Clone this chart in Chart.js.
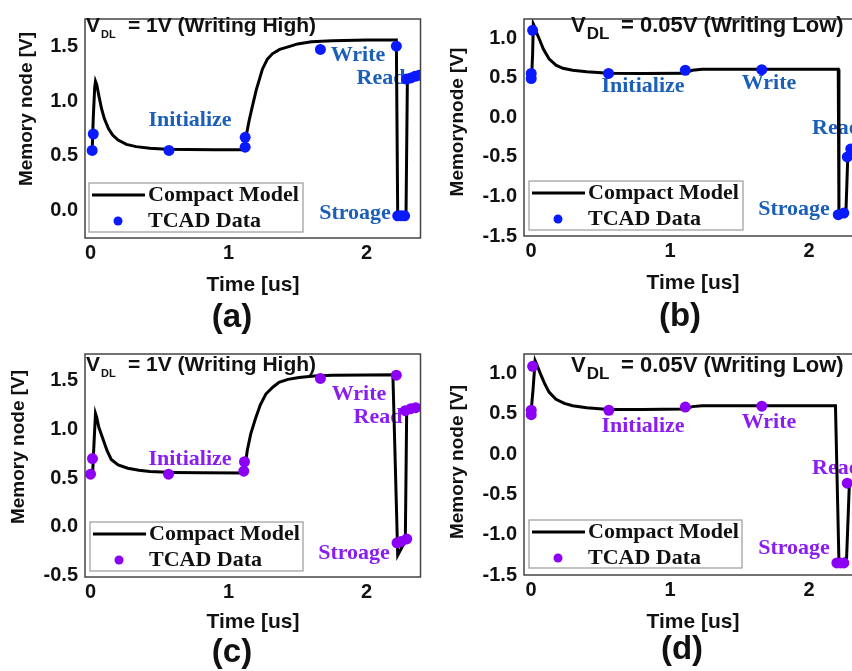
<!DOCTYPE html>
<html>
<head>
<meta charset="utf-8">
<script src="https://cdn.jsdelivr.net/npm/chart.js@4.4.1/dist/chart.umd.min.js"></script>
<style>
html, body { margin: 0; padding: 0; background: #fff; }
body { width: 852px; height: 671px; overflow: hidden; position: relative; }
.panel { position: absolute; }
</style>
</head>
<body>
<div class="panel" style="left:0;top:0;width:426px;height:335px"><canvas id="ca"></canvas></div>
<div class="panel" style="left:426px;top:0;width:440px;height:335px"><canvas id="cb"></canvas></div>
<div class="panel" style="left:0;top:335px;width:426px;height:336px"><canvas id="cc"></canvas></div>
<div class="panel" style="left:426px;top:335px;width:440px;height:336px"><canvas id="cd"></canvas></div>
<script>
// tick labels
const xTicks = [0, 1, 2];
const yTicksHigh = [0, 0.5, 1, 1.5];
const yTicksHighC = [-0.5, 0, 0.5, 1, 1.5];
const yTicksLow = [-1.5, -1, -0.5, 0, 0.5, 1];

const seriesNames = ['Compact Model', 'TCAD Data'];
const phaseNames = ['Initialize', 'Write', 'Read', 'Stroage'];

// (a) V_DL = 1V, writing high
const modelTimeA = [0.012, 0.02, 0.03, 0.036, 0.045, 0.06, 0.08, 0.1, 0.13, 0.16, 0.2, 0.26, 0.33, 0.43, 0.55, 0.7, 0.9, 1.105,
  1.115, 1.13, 1.15, 1.17, 1.2, 1.245, 1.28, 1.317, 1.37, 1.437, 1.5, 1.6, 1.75, 2.0, 2.215, 2.225, 2.285, 2.295, 2.33, 2.4];
const modelVoltA = [0.55, 0.85, 1.12, 1.18, 1.15, 1.05, 0.93, 0.84, 0.75, 0.69, 0.645, 0.605, 0.585, 0.57, 0.562, 0.558, 0.556, 0.556,
  0.6, 0.7, 0.83, 0.94, 1.1, 1.29, 1.38, 1.43, 1.47, 1.495, 1.52, 1.54, 1.55, 1.555, 1.555, -0.05, -0.05, 1.2, 1.215, 1.235];
const tcadTimeA = [0.012, 0.02, 0.568, 1.12, 1.12, 1.665, 2.215, 2.225, 2.25, 2.275, 2.29, 2.32, 2.35, 2.38];
const tcadVoltA = [0.55, 0.70, 0.55, 0.58, 0.67, 1.47, 1.50, -0.045, -0.045, -0.045, 1.20, 1.21, 1.225, 1.235];

// (b) V_DL = 0.05V, writing low
const modelTimeB = [0.005, 0.012, 0.017, 0.025, 0.04, 0.06, 0.09, 0.13, 0.18, 0.23, 0.3, 0.4, 0.56, 0.8, 1.1, 1.13, 1.16, 1.23, 1.6,
  2.21, 2.215, 2.265, 2.28, 2.3, 2.4];
const modelVoltB = [0.51, 0.8, 1.18, 1.15, 1.07, 0.99, 0.86, 0.74, 0.66, 0.62, 0.595, 0.575, 0.558, 0.555, 0.556, 0.575, 0.595, 0.607, 0.607,
  0.607, -1.23, -1.21, -0.42, -0.38, -0.35];
const tcadTimeB = [0.002, 0.002, 0.012, 0.558, 1.11, 1.66, 2.21, 2.25, 2.275, 2.3];
const tcadVoltB = [0.555, 0.49, 1.10, 0.555, 0.595, 0.603, -1.23, -1.21, -0.5, -0.4];

// (c) V_DL = 1V, writing high
const modelTimeC = [0.015, 0.025, 0.036, 0.045, 0.06, 0.09, 0.12, 0.15, 0.2, 0.27, 0.35, 0.43, 0.6, 0.8, 1.105, 1.12, 1.135, 1.16,
  1.195, 1.23, 1.27, 1.32, 1.365, 1.43, 1.51, 1.62, 1.75, 2.0, 2.19, 2.225, 2.27, 2.28, 2.29, 2.33, 2.4];
const modelVoltC = [0.54, 0.85, 1.16, 1.12, 1.02, 0.9, 0.78, 0.69, 0.635, 0.6, 0.58, 0.567, 0.558, 0.553, 0.552, 0.62, 0.78, 0.95,
  1.11, 1.25, 1.36, 1.43, 1.48, 1.51, 1.53, 1.545, 1.552, 1.555, 1.558, -0.29, -0.17, -0.14, 1.19, 1.21, 1.23];
const tcadTimeC = [0.0, 0.014, 0.565, 1.11, 1.115, 1.665, 2.215, 2.22, 2.25, 2.29, 2.28, 2.32, 2.355];
const tcadVoltC = [0.54, 0.70, 0.54, 0.57, 0.667, 1.52, 1.553, -0.163, -0.15, -0.123, 1.19, 1.21, 1.22];

// (d) V_DL = 0.05V, writing low
const modelTimeD = [0.0, 0.015, 0.03, 0.04, 0.07, 0.1, 0.13, 0.18, 0.24, 0.3, 0.4, 0.56, 0.8, 1.11, 1.16, 1.23, 1.6, 2.19,
  2.215, 2.27, 2.29, 2.4];
const modelVoltD = [0.51, 0.8, 1.16, 1.12, 0.99, 0.87, 0.77, 0.68, 0.63, 0.6, 0.575, 0.555, 0.555, 0.56, 0.59, 0.6, 0.602, 0.602,
  -1.33, -1.29, -0.36, -0.33];
const tcadTimeD = [0.002, 0.002, 0.012, 0.56, 1.11, 1.66, 2.2, 2.225, 2.25, 2.275];
const tcadVoltD = [0.545, 0.49, 1.09, 0.545, 0.585, 0.595, -1.35, -1.35, -1.35, -0.36];

const SANS = '"Liberation Sans", Arial, sans-serif';
const SERIF = '"Liberation Serif", "Times New Roman", serif';
const BLUE_TEXT = '#1b5fb8', BLUE_DOT = '#0a1aff';
const PURPLE_TEXT = '#8a1ef0', PURPLE_DOT = '#8c00f5';

const highTitle = { base: 32, x: 86, subSize: 11, subDy: 6, restX: 128, rest: '= 1V (Writing High)', size: 21 };
const lowTitle = { base: 32, x: 145, subSize: 17, subDy: 7, restX: 195, rest: '= 0.05V (Writing Low)', size: 22 };

const panels = [
  { id: 'ca', w: 426, h: 335, left: 85, right: 422, top: 12, bottom: 238,
    xMin: -0.04, xMax: 2.39, yMin: -0.247, yMax: 1.747, yTicks: yTicksHigh,
    time: modelTimeA, volt: modelVoltA, tTime: tcadTimeA, tVolt: tcadVoltA,
    textColor: BLUE_TEXT, dotColor: BLUE_DOT, title: highTitle,
    labels: [[190, 120, 'center'], [358, 55, 'center'], [381, 78, 'center'], [355, 213, 'center']],
    legend: { x: 89, y: 183, w: 214, h: 49 },
    yTitle: { text: 'Memory node [V]', x: 27, y: 109 }, xTitle: { x: 253, y: 285 }, letter: { text: '(a)', x: 232, y: 318 } },
  { id: 'cb', w: 440, h: 335, left: 98, right: 435, top: 10, bottom: 236,
    xMin: -0.05, xMax: 2.37, yMin: -1.5, yMax: 1.243, yTicks: yTicksLow,
    time: modelTimeB, volt: modelVoltB, tTime: tcadTimeB, tVolt: tcadVoltB,
    textColor: BLUE_TEXT, dotColor: BLUE_DOT, title: lowTitle,
    labels: [[217, 86, 'center'], [343, 83, 'center'], [386, 128, 'left'], [368, 209, 'center']],
    legend: { x: 103, y: 181, w: 214, h: 49 },
    yTitle: { text: 'Memorynode [V]', x: 32, y: 122 }, xTitle: { x: 267, y: 283 }, letter: { text: '(b)', x: 254, y: 317 } },
  { id: 'cc', w: 426, h: 336, left: 85, right: 422, top: 15, bottom: 242,
    xMin: -0.04, xMax: 2.39, yMin: -0.513, yMax: 1.77, yTicks: yTicksHighC,
    time: modelTimeC, volt: modelVoltC, tTime: tcadTimeC, tVolt: tcadVoltC,
    textColor: PURPLE_TEXT, dotColor: PURPLE_DOT, title: Object.assign({}, highTitle, { base: 36 }),
    labels: [[190, 124, 'center'], [359, 59, 'center'], [378, 82, 'center'], [354, 218, 'center']],
    legend: { x: 90, y: 187, w: 213, h: 49 },
    yTitle: { text: 'Memory node [V]', x: 19, y: 112 }, xTitle: { x: 253, y: 287 }, letter: { text: '(c)', x: 232, y: 318 } },
  { id: 'cd', w: 440, h: 336, left: 98, right: 435, top: 14, bottom: 240,
    xMin: -0.05, xMax: 2.37, yMin: -1.5, yMax: 1.243, yTicks: yTicksLow,
    time: modelTimeD, volt: modelVoltD, tTime: tcadTimeD, tVolt: tcadVoltD,
    textColor: PURPLE_TEXT, dotColor: PURPLE_DOT, title: Object.assign({}, lowTitle, { base: 37 }),
    labels: [[217, 91, 'center'], [343, 87, 'center'], [386, 133, 'left'], [368, 213, 'center']],
    legend: { x: 103, y: 185, w: 213, h: 48 },
    yTitle: { text: 'Memory node [V]', x: 32, y: 127 }, xTitle: { x: 267, y: 287 }, letter: { text: '(d)', x: 256, y: 315 } }
];

// phase labels go under the curves, everything else on top
const decor = {
  id: 'decor',
  beforeDatasetsDraw(chart, args, p) {
    const ctx = chart.ctx;
    ctx.save();
    ctx.font = 'bold 22px ' + SERIF;
    ctx.fillStyle = p.textColor;
    ctx.textBaseline = 'middle';
    p.labels.forEach((l, i) => {
      ctx.textAlign = l[2];
      ctx.fillText(phaseNames[i], l[0], l[1]);
    });
    ctx.restore();
  },
  afterDatasetsDraw(chart, args, p) {
    const ctx = chart.ctx, a = chart.chartArea;
    ctx.save();
    // frame
    ctx.strokeStyle = '#444';
    ctx.lineWidth = 1.5;
    ctx.strokeRect(a.left, a.top, a.right - a.left, a.bottom - a.top);

    // title with subscript
    const t = p.title;
    ctx.fillStyle = '#111';
    ctx.textAlign = 'left';
    ctx.textBaseline = 'alphabetic';
    ctx.font = 'bold ' + t.size + 'px ' + SANS;
    ctx.fillText('V', t.x, t.base);
    const vw = ctx.measureText('V').width;
    ctx.font = 'bold ' + t.subSize + 'px ' + SANS;
    ctx.fillText('DL', t.x + vw + 1, t.base + t.subDy);
    ctx.font = 'bold ' + t.size + 'px ' + SANS;
    ctx.fillText(t.rest, t.restX, t.base);

    // legend
    const lg = p.legend;
    ctx.strokeStyle = '#9a9a9a';
    ctx.lineWidth = 1.2;
    ctx.strokeRect(lg.x, lg.y, lg.w, lg.h);
    ctx.strokeStyle = '#000';
    ctx.lineWidth = 3;
    ctx.beginPath();
    ctx.moveTo(lg.x + 3, lg.y + 12);
    ctx.lineTo(lg.x + 56, lg.y + 12);
    ctx.stroke();
    ctx.fillStyle = p.dotColor;
    ctx.beginPath();
    ctx.arc(lg.x + 29, lg.y + 38, 4.5, 0, Math.PI * 2);
    ctx.fill();
    ctx.fillStyle = '#111';
    ctx.font = 'bold 22px ' + SERIF;
    ctx.textBaseline = 'middle';
    ctx.fillText(seriesNames[0], lg.x + 59, lg.y + 12);
    ctx.fillText(seriesNames[1], lg.x + 59, lg.y + 38);

    // axis titles
    ctx.textAlign = 'center';
    ctx.font = 'bold 21px ' + SANS;
    ctx.fillText('Time [us]', p.xTitle.x, p.xTitle.y);
    ctx.save();
    ctx.translate(p.yTitle.x, p.yTitle.y);
    ctx.rotate(-Math.PI / 2);
    ctx.font = 'bold 19px ' + SANS;
    ctx.fillText(p.yTitle.text, 0, 0);
    ctx.restore();

    // panel letter
    ctx.font = 'bold 33px ' + SANS;
    ctx.fillText(p.letter.text, p.letter.x, p.letter.y);
    ctx.restore();
  }
};

function makePanel(p) {
  const tickFont = { family: SANS, size: 20, weight: 'bold' };
  new Chart(document.getElementById(p.id), {
    type: 'scatter',
    data: {
      datasets: [
        {
          label: seriesNames[1],
          data: p.tTime.map((t, i) => ({ x: t, y: p.tVolt[i] })),
          pointRadius: 5.5,
          pointBackgroundColor: p.dotColor,
          pointBorderWidth: 0,
          order: 0
        },
        {
          label: seriesNames[0],
          data: p.time.map((t, i) => ({ x: t, y: p.volt[i] })),
          showLine: true,
          borderColor: '#000',
          borderWidth: 3,
          pointRadius: 0,
          tension: 0,
          order: 1
        }
      ]
    },
    options: {
      responsive: true,
      maintainAspectRatio: false,
      animation: false,
      layout: { padding: { top: p.top, right: p.w - p.right, left: 0, bottom: 0 } },
      plugins: { legend: { display: false }, tooltip: { enabled: false }, decor: p },
      scales: {
        x: {
          type: 'linear', min: p.xMin, max: p.xMax,
          grid: { display: false, drawTicks: false },
          border: { display: false },
          afterBuildTicks: s => { s.ticks = xTicks.map(v => ({ value: v })); },
          afterFit: s => { s.height = p.h - p.bottom; },
          ticks: { font: tickFont, color: '#111', padding: 3, maxRotation: 0, callback: v => String(v) }
        },
        y: {
          type: 'linear', min: p.yMin, max: p.yMax,
          grid: { display: false, drawTicks: false },
          border: { display: false },
          afterBuildTicks: s => { s.ticks = p.yTicks.map(v => ({ value: v })); },
          afterFit: s => { s.width = p.left; },
          ticks: { font: tickFont, color: '#111', padding: 7, callback: v => v.toFixed(1) }
        }
      }
    },
    plugins: [decor]
  });
}

panels.forEach(makePanel);
</script>
</body>
</html>
